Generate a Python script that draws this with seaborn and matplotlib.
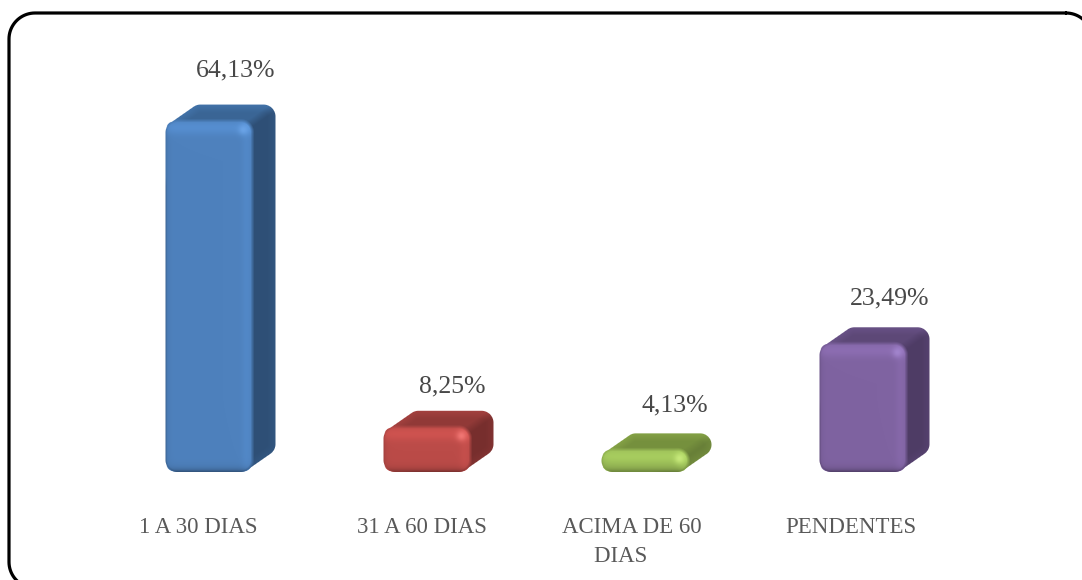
import numpy as np
import pandas as pd
import matplotlib
matplotlib.use('Agg')
import matplotlib.pyplot as plt
import matplotlib.patches as mpatches
from matplotlib.lines import Line2D
from matplotlib.transforms import IdentityTransform, ScaledTranslation
import seaborn as sns

# dados
categorias = ['1 A 30 DIAS', '31 A 60 DIAS', 'ACIMA DE 60\nDIAS    ', 'PENDENTES']
valores = [64.13, 8.25, 4.13, 23.49]

# cores de cada caixa: frente, topo, lado, brilho
cor_frente = ['#4e81bd', '#bb4b48', '#98ba56', '#7f63a1']
cor_topo = ['#3c6899', '#943b39', '#78933f', '#5f4a7a']
cor_lado = ['#30527a', '#7b302f', '#6c843a', '#513e69']
cor_brilho = ['#6aa3e6', '#f07673', '#c6e87a', '#a184cc']

# deslocamento dos rotulos em pixels (x, y)
desloc_valor = [(27, 50), (25, 40), (30, 44), (27, 45)]
desloc_categoria = [-11, -5, -13, -12]

W, H = 1082, 580
DPI = 100
FUNDO_X, FUNDO_Y = 23, 16  # profundidade da caixa
RAIO = 12
ESCALA_Y = 5.48  # pixels por ponto percentual
PASSO_X = 218
X_PRIMEIRA = 209
Y_BASE = 472


def cor(hex_):
    return np.array(matplotlib.colors.to_rgb(hex_))


def sd_round(x, y, x0, y0, x1, y1, r):
    """distancia com sinal ate um retangulo arredondado"""
    qx = np.abs(x - (x0 + x1) / 2) - (x1 - x0) / 2 + r
    qy = np.abs(y - (y0 + y1) / 2) - (y1 - y0) / 2 + r
    return (np.hypot(np.maximum(qx, 0), np.maximum(qy, 0))
            + np.minimum(np.maximum(qx, qy), 0) - r)


def caixa_3d(ax, barra, i):
    """pinta a caixa com relevo em cima da barra do seaborn"""
    # posicao da barra em pixels, com y para baixo
    ext = barra.get_window_extent()
    x0, x1 = ext.x0, ext.x1
    y0, y1 = H - ext.y1, H - ext.y0
    r = min(RAIO, (y1 - y0) / 2)

    xs = np.arange(int(x0) - 3, int(x1) + FUNDO_X + 4)
    ys = np.arange(int(y0) - FUNDO_Y - 3, int(y1) + 4)
    x, y = np.meshgrid(xs + 0.5, ys + 0.5)

    sd_f = sd_round(x, y, x0, y0, x1, y1, r)
    sd_total = np.min([sd_round(x - t * FUNDO_X, y + t * FUNDO_Y, x0, y0, x1, y1, r)
                       for t in np.linspace(0, 1, 40)], axis=0)

    # topo e lado separados pela diagonal do canto
    xc, yc = x1 - 0.3 * r, y0 + 0.3 * r
    linha = yc - (x - xc) * FUNDO_Y / FUNDO_X
    peso_lado = np.clip((y - linha) / 10 + 0.5, 0, 1)[..., None]
    d_fundo = np.clip((-sd_total) / 8, 0, 1)[..., None]
    topo = cor(cor_topo[i]) * (1.10 - 0.12 * d_fundo)
    lado = cor(cor_lado[i]) * (1.05 - 0.08 * d_fundo)
    atras = topo * (1 - peso_lado) + lado * peso_lado

    # frente: faixa clara em cima e a direita, bordas escuras
    d_top, d_bot, d_esq, d_dir = y - y0, y1 - y, x - x0, x1 - x
    luz = (1 + 0.10 * np.exp(-((d_top - 7) / 7) ** 2)
           + 0.05 * np.exp(-((d_dir - 6) / 5) ** 2))
    sombra = (1 - 0.38 * np.exp(-d_bot / 3) - 0.12 * np.exp(-d_esq / 2.5))
    frente = np.clip(cor(cor_frente[i]) * (luz * sombra)[..., None], 0, 1)
    ponto = np.exp(-(((x - (x1 - 9)) ** 2 + (y - (y0 + 9)) ** 2) / (2 * 3.5 ** 2)))[..., None]
    frente = frente * (1 - ponto) + cor(cor_brilho[i]) * ponto

    # transicao suave entre a frente e as faces de tras
    a_f = np.clip(0.5 - sd_f / 4, 0, 1)[..., None]
    rgb = frente * a_f + atras * (1 - a_f)
    alpha = np.clip(0.5 - sd_total, 0, 1)
    rgba = np.dstack([np.clip(rgb, 0, 1), alpha])

    inv = ax.transData.inverted()
    (ex0, ey0), (ex1, ey1) = inv.transform([(xs[0], H - ys[-1] - 1), (xs[-1] + 1, H - ys[0])])
    ax.imshow(rgba, extent=(ex0, ex1, ey0, ey1), origin='upper', aspect='auto',
              interpolation='bilinear', zorder=3, clip_on=False)

    # a barra plana fica por baixo, com os cantos recortados
    recorte = mpatches.FancyBboxPatch((x0 + r, ext.y0 + r), x1 - x0 - 2 * r, ext.y1 - ext.y0 - 2 * r,
                                      boxstyle=f'round,pad={r},rounding_size={r}',
                                      transform=IdentityTransform())
    barra.set_clip_path(recorte)


def moldura(fig, x0, y0, x1, y1, r):
    """moldura arredondada, em pixels com y para baixo"""
    cantos = [(x1 - r, y0 + r, -90), (x1 - r, y1 - r, 0), (x0 + r, y1 - r, 90), (x0 + r, y0 + r, 180)]
    xs, ys = [], []
    for cx, cy, a in cantos:
        t = np.radians(np.linspace(a, a + 90, 20))
        xs.extend(cx + r * np.cos(t))
        ys.extend(cy + r * np.sin(t))
    xs.append(xs[0])
    ys.append(ys[0])
    fig.add_artist(Line2D(xs, H - np.array(ys), transform=IdentityTransform(),
                          color='black', linewidth=2.3))


def main():
    sns.set_theme(style='white')
    plt.rcParams['font.family'] = ['Liberation Serif', 'DejaVu Serif']

    df = pd.DataFrame({'categoria': categorias, 'valor': valores})

    fig = plt.figure(figsize=(W / DPI, H / DPI), dpi=DPI)
    # o eixo comeca na linha de base das barras
    ax = fig.add_axes([0, (H - Y_BASE) / H, 1, Y_BASE / H])
    sns.barplot(data=df, x='categoria', y='valor', hue='categoria', palette=cor_frente,
                width=87 / PASSO_X, saturation=1, legend=False, dodge=False, ax=ax)

    xlim = (-X_PRIMEIRA / PASSO_X, (W - X_PRIMEIRA) / PASSO_X)
    ylim = (0, Y_BASE / ESCALA_Y)
    ax.set_xlim(xlim)
    ax.set_ylim(ylim)
    ax.set_xlabel('')
    ax.set_ylabel('')
    ax.set_yticks([])
    sns.despine(ax=ax, left=True, bottom=True)
    ax.patch.set_alpha(0)

    for i, barra in enumerate(ax.patches):
        caixa_3d(ax, barra, i)
    ax.set_xlim(xlim)
    ax.set_ylim(ylim)

    # rotulos das categorias
    ax.tick_params(axis='x', length=0, pad=32.5)
    ax.set_xticks(range(len(categorias)))
    ax.set_xticklabels(categorias, fontsize=16.5, color='#595959', linespacing=1.5)
    for rotulo, dx in zip(ax.get_xticklabels(), desloc_categoria):
        rotulo.set_transform(rotulo.get_transform() + ScaledTranslation(dx / DPI, 0, fig.dpi_scale_trans))

    # rotulos dos valores
    for i, v in enumerate(valores):
        ax.annotate(f'{v:.2f}%'.replace('.', ','), (i, v), xytext=desloc_valor[i],
                    textcoords='offset pixels', ha='center', va='center',
                    fontsize=18.5, color='#484848')

    moldura(fig, 9, 13, 1092, 588, 26)

    fig.savefig('out.png', dpi=DPI)


if __name__ == '__main__':
    main()
